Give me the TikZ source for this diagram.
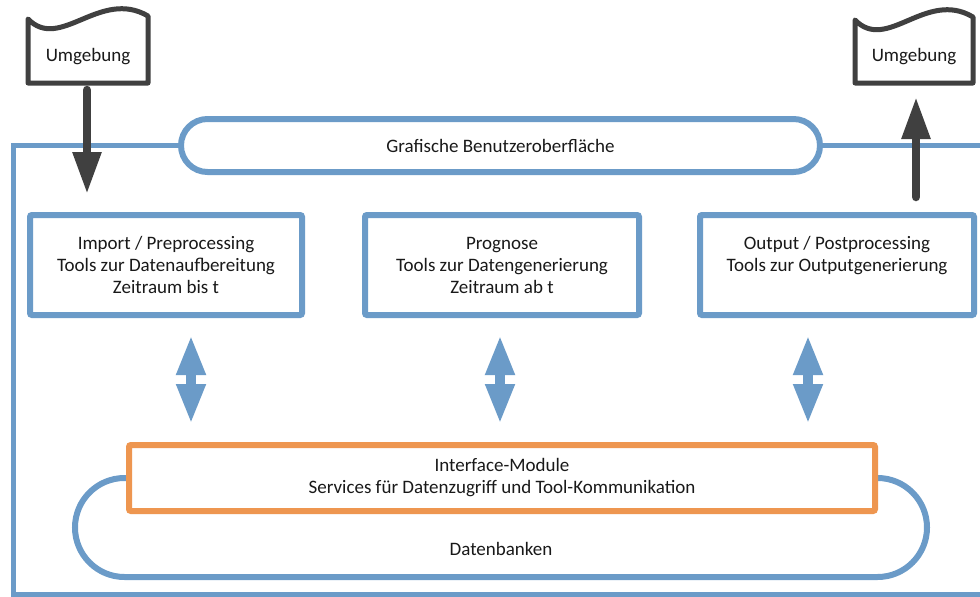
\documentclass[tikz,border=0pt]{standalone}
\usepackage{fontspec}
\setmainfont{Carlito}
\usetikzlibrary{arrows.meta,calc}
\definecolor{frameblue}{HTML}{6B9BC8}
\definecolor{ifaceorange}{HTML}{EE9650}
\definecolor{envgray}{HTML}{404040}
\begin{document}
\begin{tikzpicture}[x=1pt,y=-1pt,
  every node/.style={font=\fontsize{19}{22}\selectfont, text=black!90, inner sep=0pt},
  frameline/.style={draw=frameblue, line width=5pt},
  toolbox/.style={draw=frameblue, line width=6pt, fill=white, rounded corners=2pt,
    minimum width=274pt, minimum height=100pt, align=center},
  guipill/.style={draw=frameblue, line width=6pt, fill=white, rounded corners=26.5pt,
    minimum width=639pt, minimum height=53pt},
  dbpill/.style={draw=frameblue, line width=6pt, fill=white, rounded corners=49.5pt,
    minimum width=852pt, minimum height=99pt},
  ifacebox/.style={draw=ifaceorange, line width=6pt, fill=white, rounded corners=2pt,
    minimum width=746pt, minimum height=66pt, align=center},
  envline/.style={draw=envgray, line width=5pt, line join=round, fill=white},
  envarrow/.style={draw=envgray, line width=8.5pt, line cap=round,
    -{Triangle[width=27pt,length=42pt]}},
  dblarrow/.style={draw=frameblue, line width=10pt,
    {Triangle[width=27pt,length=40pt]}-{Triangle[width=27pt,length=40pt]}},
]
\clip (0,0) rectangle (980,597);
\fill[white] (0,0) rectangle (980,597);

% outer system frame (open to the right)
\draw[frameline] (995,145) -- (13,145) -- (13,594) -- (995,594);

% graphical user interface
\node[guipill] (gui) at (500.5,145.5) {Grafische Benutzeroberfläche};

% databases with the interface layer on top
\node[dbpill, label={[yshift=-21pt]center:Datenbanken}] (db) at (501,527.5) {};
\node[ifacebox] (iface) at (502,478)
  {Interface-Module\\Services für Datenzugriff und Tool-Kommunikation};

% tool groups
\node[toolbox, minimum width=272pt] (imp) at (166,265)
  {Import / Preprocessing\\Tools zur Datenaufbereitung\\Zeitraum bis t};
\node[toolbox] (prog) at (502,265)
  {Prognose\\Tools zur Datengenerierung\\Zeitraum ab t};
\node[toolbox] (out) at (837,265)
  {Output / Postprocessing\\Tools zur Outputgenerierung\\\mbox{}};

% environment, input side: wavy-topped outline, then its label
\coordinate (envLc) at (88,57);
\begin{scope}[shift={(envLc)}]
  \path[envline] (-60,26) -- (-60,-38)
    .. controls (-28,-5) and (12,-69) .. (60,-41) -- (60,26) -- cycle;
\end{scope}
\node (envL) at (envLc) {Umgebung};

% environment, output side
\coordinate (envRc) at (914,57);
\begin{scope}[shift={(envRc)}]
  \path[envline] (-59,26) -- (-59,-37)
    .. controls (-27,-4) and (12,-68) .. (59,-40) -- (59,26) -- cycle;
\end{scope}
\node (envR) at (envRc) {Umgebung};

% data flow to and from the environment
\draw[envarrow] ($(envL.center)+(-1,33)$) -- ($(imp.north -| envL.center)+(-1,-18)$);
\draw[envarrow] ($(out.north -| envR.center)+(2,-15)$) -- ($(envR.center)+(2,40)$);

% access paths between tool groups and interface layer
\draw[dblarrow] ($(imp.south)+(25,17)$) -- ($(imp.south |- iface.north)+(25,-18)$);
\draw[dblarrow] ($(prog.south)+(-2,17)$) -- ($(prog.south |- iface.north)+(-2,-18)$);
\draw[dblarrow] ($(out.south)+(-29,17)$) -- ($(out.south |- iface.north)+(-29,-18)$);
\end{tikzpicture}
\end{document}
